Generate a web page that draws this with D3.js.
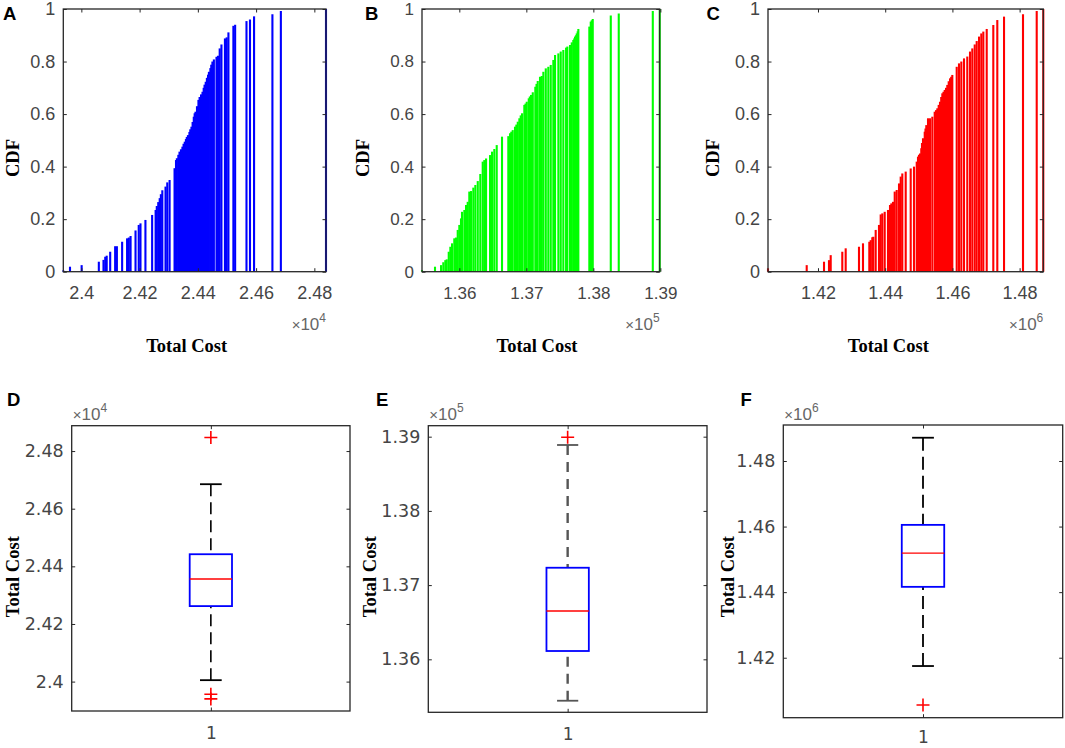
<!DOCTYPE html>
<html>
<head>
<meta charset="utf-8">
<script src="https://cdn.jsdelivr.net/npm/d3@7"></script>
<style>
	body { margin: 0; background: #fff; }
	svg { display: block; }
</style>
</head>
<body>
<svg id="fig" width="1065" height="748"></svg>
<script>
// Empirical CDF stems: [total cost, CDF]
const stemsA = [
	[23938, 0.005], [23961, 0.019], [24001, 0.025], [24060, 0.038], [24076, 0.045], [24082, 0.057],
	[24087, 0.061], [24099, 0.076], [24116, 0.097], [24122, 0.097], [24140, 0.114], [24157, 0.127],
	[24163, 0.13], [24169, 0.136], [24186, 0.157], [24197, 0.178], [24203, 0.184], [24220, 0.197],
	[24243, 0.216], [24255, 0.235], [24259, 0.25], [24264, 0.265], [24269, 0.28], [24273, 0.295],
	[24278, 0.31], [24289, 0.324], [24295, 0.34], [24303, 0.349], [24320, 0.394], [24325, 0.425],
	[24328, 0.432], [24333, 0.445], [24337, 0.457], [24342, 0.466], [24347, 0.476], [24351, 0.487],
	[24355, 0.495], [24359, 0.505], [24362, 0.513], [24366, 0.52], [24371, 0.532], [24374, 0.542],
	[24378, 0.552], [24382, 0.57], [24386, 0.59], [24389, 0.603], [24392, 0.609], [24397, 0.63],
	[24402, 0.654], [24406, 0.665], [24411, 0.675], [24416, 0.685], [24420, 0.7], [24423, 0.712],
	[24427, 0.723], [24431, 0.738], [24435, 0.75], [24438, 0.761], [24443, 0.775], [24446, 0.788],
	[24450, 0.8], [24455, 0.808], [24464, 0.818], [24469, 0.822], [24475, 0.85], [24481, 0.865],
	[24493, 0.888], [24499, 0.892], [24505, 0.911], [24522, 0.936], [24528, 0.94], [24567, 0.954],
	[24579, 0.96], [24593, 0.972], [24656, 0.98], [24685, 0.992], [24840, 1.0]
];
const stemsB = [
	[135443, 0.006], [135637, 0.019], [135727, 0.025], [135761, 0.036], [135791, 0.044], [135812, 0.047],
	[135842, 0.076], [135866, 0.095], [135891, 0.108], [135925, 0.127], [135950, 0.13], [135976, 0.159],
	[136000, 0.178], [136025, 0.203], [136040, 0.228], [136075, 0.235], [136100, 0.254], [136125, 0.266],
	[136149, 0.305], [136175, 0.307], [136209, 0.32], [136239, 0.33], [136275, 0.345], [136313, 0.372],
	[136349, 0.419], [136373, 0.425], [136399, 0.431], [136458, 0.444], [136488, 0.457], [136522, 0.467],
	[136558, 0.482], [136637, 0.514], [136731, 0.516], [136757, 0.527], [136776, 0.533], [136797, 0.539],
	[136831, 0.552], [136851, 0.56], [136872, 0.571], [136896, 0.584], [136916, 0.595], [136936, 0.603],
	[136970, 0.635], [136988, 0.64], [137006, 0.647], [137036, 0.66], [137052, 0.667], [137070, 0.673],
	[137096, 0.683], [137134, 0.704], [137152, 0.715], [137170, 0.726], [137204, 0.742], [137230, 0.745],
	[137254, 0.761], [137290, 0.774], [137328, 0.78], [137364, 0.787], [137403, 0.806], [137428, 0.825],
	[137478, 0.831], [137513, 0.838], [137552, 0.844], [137593, 0.853], [137612, 0.857], [137652, 0.863],
	[137678, 0.873], [137701, 0.882], [137715, 0.888], [137727, 0.895], [137740, 0.9], [137752, 0.907],
	[137766, 0.915], [137776, 0.924], [137940, 0.933], [137961, 0.952], [137976, 0.957], [137991, 0.962],
	[138260, 0.975], [138379, 0.983], [138887, 0.992], [138990, 1.0]
];
const stemsC = [
	[1405120, 0.013], [1416640, 0.025], [1421790, 0.038], [1423270, 0.044], [1423780, 0.063], [1427230, 0.076],
	[1428240, 0.089], [1432200, 0.095], [1433390, 0.108], [1435270, 0.114], [1435680, 0.12], [1436160, 0.131],
	[1436460, 0.133], [1437170, 0.159], [1438150, 0.178], [1438660, 0.218], [1439140, 0.222], [1439850, 0.228],
	[1440830, 0.235], [1441430, 0.254], [1441820, 0.26], [1442320, 0.266], [1442830, 0.305], [1443420, 0.311],
	[1444110, 0.336], [1444610, 0.362], [1445090, 0.374], [1446100, 0.381], [1447590, 0.393], [1448570, 0.4],
	[1449380, 0.419], [1449760, 0.438], [1450060, 0.445], [1450360, 0.45], [1450740, 0.47], [1450950, 0.49],
	[1451250, 0.508], [1451760, 0.533], [1451990, 0.545], [1452230, 0.558], [1452740, 0.584], [1453330, 0.584],
	[1454020, 0.59], [1454730, 0.609], [1455120, 0.615], [1455510, 0.622], [1455920, 0.635], [1456310, 0.647],
	[1456670, 0.665], [1457000, 0.679], [1457350, 0.685], [1457710, 0.692], [1458100, 0.7], [1458480, 0.711],
	[1458900, 0.725], [1459290, 0.736], [1459640, 0.742], [1459970, 0.749], [1461280, 0.78], [1461960, 0.793],
	[1462650, 0.8], [1463450, 0.812], [1464430, 0.819], [1465240, 0.838], [1465920, 0.85], [1466640, 0.865],
	[1467230, 0.878], [1467920, 0.895], [1468600, 0.907], [1469200, 0.914], [1470210, 0.924], [1472170, 0.939],
	[1473360, 0.958], [1475360, 0.971], [1481010, 0.98], [1485090, 0.992], [1487050, 1.0]
];

// Box plots: [lower whisker, q1, median, q3, upper whisker]
const boxD = [24005, 24262, 24356, 24442, 24685];
const boxE = [135442, 136112, 136651, 137234, 138888];
const boxF = [1417470, 1441620, 1451890, 1460520, 1487100];
const outliersD = [24847, 23956, 23940];
const outliersE = [138992];
const outliersF = [1405580];
const ylimD = [23898, 24888];
const ylimE = [135286, 139148];
const ylimF = [1401710, 1490980];

// Tick values
const ticksA = [24000, 24200, 24400, 24600, 24800];
const ticksB = [136000, 137000, 138000, 139000];
const ticksC = [1420000, 1440000, 1460000, 1480000];
const ticksCdf = [0, 0.2, 0.4, 0.6, 0.8, 1];

const svg = d3.select('#fig');
const tickLen = 3.5;
const frameColor = '#262626';
const labelColor = '#454545';
const sansFont = '"Liberation Sans", Arial, sans-serif';
const wideFont = '"DejaVu Sans", sans-serif';
const serifFont = '"Liberation Serif", "Times New Roman", serif';

const styleAxis = (ax, font, size) => {
	ax.select('.domain').remove();
	ax.selectAll('line').attr('stroke', frameColor).attr('stroke-width', 1);
	ax.selectAll('text').attr('font-family', font).attr('font-size', size).attr('fill', labelColor);
};

function frame(g, w, h) {
	g.append('rect').attr('x', 0).attr('y', 0).attr('width', w).attr('height', h)
		.attr('fill', 'none').attr('stroke', frameColor).attr('stroke-width', 1.3);
}

function panelLetter(letter, x, y) {
	svg.append('text').attr('x', x).attr('y', y)
		.attr('font-family', sansFont).attr('font-weight', 'bold').attr('font-size', 18.5)
		.attr('fill', '#000').text(letter);
}

function powerLabel(x, y, exp, anchor) {
	const t = svg.append('text').attr('x', x).attr('y', y).attr('text-anchor', anchor)
		.attr('font-family', sansFont).attr('font-size', 17).attr('fill', '#666');
	t.append('tspan').attr('font-size', 15).text('×');
	t.append('tspan').text('10');
	t.append('tspan').attr('dy', -8).attr('font-size', 12).text(exp);
}

function boldLabel(text, x, y, rotate) {
	svg.append('text')
		.attr('transform', 'translate(' + x + ',' + y + ')' + (rotate ? ' rotate(-90)' : ''))
		.attr('text-anchor', 'middle').attr('dominant-baseline', 'central')
		.attr('font-family', serifFont).attr('font-weight', 'bold').attr('font-size', 18.5)
		.attr('fill', '#000').text(text);
}

function cdfPanel(cfg) {
	const w = cfg.right - cfg.left, h = cfg.bottom - cfg.top;
	const g = svg.append('g').attr('transform', 'translate(' + cfg.left + ',' + cfg.top + ')');
	const x = d3.scaleLinear().domain(d3.extent(cfg.stems, d => d[0])).range([0, w]);
	const y = d3.scaleLinear().domain([0, 1]).range([h, 0]);

	g.selectAll('line.stem').data(cfg.stems).join('line')
		.attr('class', 'stem')
		.attr('x1', d => x(d[0])).attr('x2', d => x(d[0]))
		.attr('y1', y(0)).attr('y2', d => y(d[1]))
		.attr('stroke', cfg.color).attr('stroke-width', 2.1);

	const fmt = d => d3.format('.3~g')(d / cfg.pow);
	g.append('g').attr('transform', 'translate(0,' + h + ')')
		.call(d3.axisBottom(x).tickValues(cfg.ticks).tickFormat(fmt).tickSize(-tickLen).tickPadding(15))
		.call(ax => styleAxis(ax, sansFont, cfg.fontSize));
	g.append('g')
		.call(d3.axisTop(x).tickValues(cfg.ticks).tickFormat('').tickSize(-tickLen))
		.call(ax => styleAxis(ax, sansFont, cfg.fontSize));
	g.append('g')
		.call(d3.axisLeft(y).tickValues(ticksCdf).tickFormat(d3.format('~g')).tickSize(-tickLen).tickPadding(8))
		.call(ax => styleAxis(ax, sansFont, cfg.fontSize));
	g.append('g').attr('transform', 'translate(' + w + ',0)')
		.call(d3.axisRight(y).tickValues(ticksCdf).tickFormat('').tickSize(-tickLen))
		.call(ax => styleAxis(ax, sansFont, cfg.fontSize));
	frame(g, w, h);

	powerLabel(cfg.right, 330, cfg.exp, 'end');
	boldLabel('Total Cost', cfg.xlabelX, 346);
	boldLabel('CDF', cfg.ylabelX, 158, true);
	panelLetter(cfg.letter, cfg.letterX, 19.5);
}

function boxPanel(cfg) {
	const w = cfg.right - cfg.left, h = cfg.bottom - cfg.top;
	const g = svg.append('g').attr('transform', 'translate(' + cfg.left + ',' + cfg.top + ')');
	const x = d3.scaleLinear().domain([0.5, 1.5]).range([0, w]);
	const y = d3.scaleLinear().domain(cfg.ylim).range([h, 0]);
	const [lo, q1, med, q3, hi] = cfg.box;

	// dashed whiskers, drawn from the caps toward the box
	g.selectAll('line.whisker').data([[hi, q3], [lo, q1]]).join('line')
		.attr('class', 'whisker')
		.attr('x1', x(1)).attr('x2', x(1))
		.attr('y1', d => y(d[0])).attr('y2', d => y(d[1]))
		.attr('stroke', cfg.whiskerColor).attr('stroke-width', cfg.whiskerWidth)
		.attr('stroke-dasharray', cfg.dash);
	g.selectAll('line.cap').data([lo, hi]).join('line')
		.attr('class', 'cap')
		.attr('x1', x(1 - cfg.capHalf)).attr('x2', x(1 + cfg.capHalf))
		.attr('y1', d => y(d)).attr('y2', d => y(d))
		.attr('stroke', cfg.whiskerColor).attr('stroke-width', 1.8);
	g.append('rect')
		.attr('x', x(1 - cfg.boxHalf)).attr('y', y(q3))
		.attr('width', x(1 + cfg.boxHalf) - x(1 - cfg.boxHalf)).attr('height', y(q1) - y(q3))
		.attr('fill', 'none').attr('stroke', '#0000ff').attr('stroke-width', 1.8);
	g.append('line')
		.attr('x1', x(1 - cfg.boxHalf)).attr('x2', x(1 + cfg.boxHalf))
		.attr('y1', y(med)).attr('y2', y(med))
		.attr('stroke', '#ff0000').attr('stroke-width', 1.4);
	const s = 6.5;
	g.selectAll('path.outlier').data(cfg.outliers).join('path')
		.attr('class', 'outlier')
		.attr('d', d => 'M' + (x(1) - s) + ',' + y(d) + 'H' + (x(1) + s) +
			'M' + x(1) + ',' + (y(d) - s) + 'V' + (y(d) + s))
		.attr('stroke', '#ff0000').attr('stroke-width', 1.6).attr('fill', 'none');

	const fmt = d => d3.format('.3~g')(d / cfg.pow);
	g.append('g').attr('transform', 'translate(0,' + h + ')')
		.call(d3.axisBottom(x).tickValues([1]).tickFormat(d3.format('d')).tickSize(-tickLen).tickPadding(cfg.onePad))
		.call(ax => styleAxis(ax, wideFont, 17));
	g.append('g')
		.call(d3.axisTop(x).tickValues([1]).tickFormat('').tickSize(-tickLen))
		.call(ax => styleAxis(ax, sansFont, 17));
	g.append('g')
		.call(d3.axisLeft(y).tickValues(cfg.ticks).tickFormat(fmt).tickSize(-tickLen).tickPadding(8))
		.call(ax => styleAxis(ax, wideFont, 17.5));
	g.append('g').attr('transform', 'translate(' + w + ',0)')
		.call(d3.axisRight(y).tickValues(cfg.ticks).tickFormat('').tickSize(-tickLen))
		.call(ax => styleAxis(ax, sansFont, 17));
	frame(g, w, h);

	powerLabel(cfg.left + 1, 420, cfg.exp, 'start');
	boldLabel('Total Cost', cfg.ylabelX, 576.7, true);
	panelLetter(cfg.letter, cfg.letterX, 405.5);
}

cdfPanel({ stems: stemsA, color: '#0000ff', ticks: ticksA, pow: 1e4, exp: '4', fontSize: 18,
	left: 63.3, top: 9, right: 326, bottom: 271.7, xlabelX: 186.7, ylabelX: 13.3, letter: 'A', letterX: 3 });
cdfPanel({ stems: stemsB, color: '#00ff00', ticks: ticksB, pow: 1e5, exp: '5', fontSize: 17,
	left: 422, top: 9, right: 659.7, bottom: 271.7, xlabelX: 537, ylabelX: 363.3, letter: 'B', letterX: 365 });
cdfPanel({ stems: stemsC, color: '#ff0000', ticks: ticksC, pow: 1e6, exp: '6', fontSize: 18,
	left: 768, top: 9, right: 1043.3, bottom: 271.7, xlabelX: 888.3, ylabelX: 713.3, letter: 'C', letterX: 706.5 });

boxPanel({ box: boxD, outliers: outliersD, ylim: ylimD, ticks: ticksA, pow: 1e4, exp: '4', onePad: 16,
	left: 71.7, top: 425.7, right: 350, bottom: 711, boxHalf: 0.076, capHalf: 0.039,
	whiskerColor: '#000', whiskerWidth: 1.6, dash: '12,6', ylabelX: 13.3, letter: 'D', letterX: 7 });
boxPanel({ box: boxE, outliers: outliersE, ylim: ylimE, ticks: ticksB, pow: 1e5, exp: '5', onePad: 16,
	left: 428.3, top: 425.7, right: 707, bottom: 712.3, boxHalf: 0.076, capHalf: 0.038,
	whiskerColor: '#555', whiskerWidth: 2.4, dash: '10,7', ylabelX: 370, letter: 'E', letterX: 376 });
boxPanel({ box: boxF, outliers: outliersF, ylim: ylimF, ticks: ticksC, pow: 1e6, exp: '6', onePad: 13,
	left: 783.3, top: 425, right: 1062.7, bottom: 717.7, boxHalf: 0.076, capHalf: 0.039,
	whiskerColor: '#000', whiskerWidth: 1.8, dash: '13,6', ylabelX: 727.5, letter: 'F', letterX: 740.5 });
</script>
</body>
</html>
